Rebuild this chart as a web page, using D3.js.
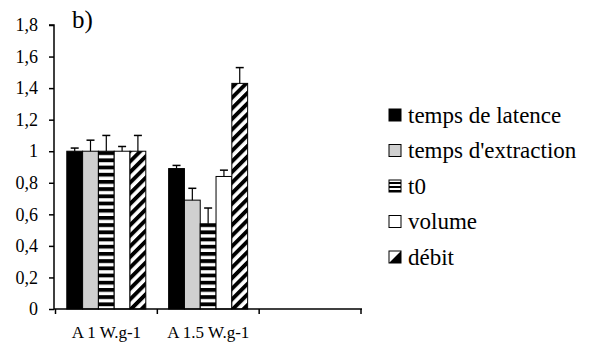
<!DOCTYPE html>
<html>
<head>
<meta charset="utf-8">
<script src="https://cdn.jsdelivr.net/npm/d3@7"></script>
<style>
  html, body { margin: 0; padding: 0; background: #fff; }
  svg { display: block; }
  svg text { font-family: "Liberation Serif", "Times New Roman", serif; fill: #000; }
</style>
</head>
<body>
<svg id="chart" width="592" height="352"></svg>
<script>
// Categories on the x axis (third slot is left empty)
const categories = ["A 1 W.g-1", "A 1.5 W.g-1", ""];
// Series (legend order)
const seriesNames = ["temps de latence", "temps d'extraction", "t0", "volume", "débit"];
// Mean values per series, one per category
const latence    = [1.00, 0.89];
const extraction = [1.00, 0.69];
const t0         = [1.00, 0.54];
const volume     = [1.00, 0.84];
const debit      = [1.00, 1.43];
// Upper error bar lengths
const latenceErr    = [0.02, 0.02];
const extractionErr = [0.07, 0.075];
const t0Err         = [0.10, 0.10];
const volumeErr     = [0.03, 0.04];
const debitErr      = [0.10, 0.10];
// Y axis ticks
const yTicks = [0, 0.2, 0.4, 0.6, 0.8, 1, 1.2, 1.4, 1.6, 1.8];

const seriesValues = [latence, extraction, t0, volume, debit];
const seriesErrors = [latenceErr, extractionErr, t0Err, volumeErr, debitErr];

const FONT = '"Liberation Serif", "Times New Roman", serif';

const svg = d3.select("#chart");
const defs = svg.append("defs");

// Horizontal stripes for t0
const hp = defs.append("pattern").attr("id", "hstripe")
  .attr("patternUnits", "userSpaceOnUse").attr("width", 8).attr("height", 7.2);
hp.append("rect").attr("width", 8).attr("height", 7.2).attr("fill", "#fff");
hp.append("rect").attr("y", 0).attr("width", 8).attr("height", 3.8).attr("fill", "#000");

// Diagonal stripes for débit
const dp = defs.append("pattern").attr("id", "dstripe")
  .attr("patternUnits", "userSpaceOnUse").attr("width", 7.5).attr("height", 10)
  .attr("patternTransform", "rotate(45)");
dp.append("rect").attr("width", 7.5).attr("height", 10).attr("fill", "#fff");
dp.append("rect").attr("width", 3.9).attr("height", 10).attr("fill", "#000");

// Small stripes for the legend swatch of t0
const lp = defs.append("pattern").attr("id", "hstripeSmall")
  .attr("patternUnits", "userSpaceOnUse").attr("width", 4).attr("height", 4);
lp.append("rect").attr("width", 4).attr("height", 4).attr("fill", "#fff");
lp.append("rect").attr("width", 4).attr("height", 2).attr("fill", "#000");

const fills = ["#000", "#d0d0d0", "url(#hstripe)", "#fff", "url(#dstripe)"];

const x0 = d3.scaleBand().domain(categories).range([55.5, 361]).padding(0);
const x1 = d3.scaleBand().domain(seriesNames).range([11.3, 90.3]).padding(0);
const y = d3.scaleLinear().domain([0, 1.8]).range([309, 25]);

// Bars with upper error bars
const groups = svg.append("g").selectAll("g")
  .data(categories.slice(0, 2))
  .join("g")
  .attr("transform", d => `translate(${x0(d)},0)`);

groups.each(function(cat, ci) {
  const g = d3.select(this);
  seriesNames.forEach((s, si) => {
    const v = seriesValues[si][ci];
    const e = seriesErrors[si][ci];
    const bx = x1(s);
    const bw = x1.bandwidth();
    g.append("rect")
      .attr("x", bx).attr("y", y(v))
      .attr("width", bw).attr("height", y(0) - y(v))
      .attr("fill", fills[si])
      .attr("stroke", "#000").attr("stroke-width", 1);
    const cx = bx + bw / 2;
    g.append("line").attr("x1", cx).attr("x2", cx)
      .attr("y1", y(v)).attr("y2", y(v + e))
      .attr("stroke", "#000").attr("stroke-width", 1.2);
    g.append("line").attr("x1", cx - 4).attr("x2", cx + 4)
      .attr("y1", y(v + e)).attr("y2", y(v + e))
      .attr("stroke", "#000").attr("stroke-width", 1.5);
  });
});

// Y axis
const yAxis = svg.append("g").attr("transform", "translate(54,0)")
  .call(d3.axisLeft(y).tickValues(yTicks).tickSize(5).tickPadding(11)
    .tickFormat(d => d3.format("~g")(d).replace(".", ",")));
yAxis.attr("font-family", null);
yAxis.select(".domain").attr("stroke-width", 1.5).attr("d", `M-5,${y(1.8)}H0V${y(0)}`);
yAxis.selectAll(".tick line").attr("stroke-width", 1.5);
yAxis.selectAll("text").style("font-family", FONT).style("font-size", "18px").attr("fill", "#000");

// X axis
const xAxis = svg.append("g").attr("transform", `translate(0,${y(0)})`);
xAxis.append("line").attr("x1", 54).attr("x2", 362).attr("y1", 0).attr("y2", 0)
  .attr("stroke", "#000").attr("stroke-width", 1.5);
const bounds = categories.map(c => x0(c)).concat([x0.range()[1]]);
xAxis.selectAll("line.tk").data(bounds).join("line").attr("class", "tk")
  .attr("x1", d => d).attr("x2", d => d).attr("y1", 0).attr("y2", 5)
  .attr("stroke", "#000").attr("stroke-width", 1.5);
xAxis.selectAll("text").data(categories).join("text")
  .attr("x", d => x0(d) + x0.bandwidth() / 2)
  .attr("y", 29)
  .attr("text-anchor", "middle")
  .style("font-family", FONT).style("font-size", "17px")
  .text(d => d);

// Panel label
svg.append("text").attr("x", 72).attr("y", 28)
  .style("font-family", FONT).style("font-size", "25px").text("b)");

// Legend
const legend = svg.append("g");
const rowY = d3.scalePoint().domain(seriesNames).range([115, 257]);
seriesNames.forEach((s, i) => {
  const cy = rowY(s);
  const g = legend.append("g").attr("transform", `translate(389,${cy})`);
  if (i === 4) {
    g.append("rect").attr("x", 0).attr("y", -6).attr("width", 12).attr("height", 12)
      .attr("fill", "#fff");
    g.append("path").attr("d", "M12,-6L12,6L0,6Z").attr("fill", "#000");
    g.append("rect").attr("x", 0).attr("y", -6).attr("width", 12).attr("height", 12)
      .attr("fill", "none").attr("stroke", "#000").attr("stroke-width", 1);
  } else {
    g.append("rect").attr("x", 0).attr("y", -6).attr("width", 12).attr("height", 12)
      .attr("fill", i === 2 ? "url(#hstripeSmall)" : fills[i])
      .attr("stroke", "#000").attr("stroke-width", 1);
  }
  g.append("text").attr("x", 19).attr("y", 0).attr("dy", "0.33em")
    .style("font-family", FONT).style("font-size", "23px").text(s);
});
</script>
</body>
</html>
